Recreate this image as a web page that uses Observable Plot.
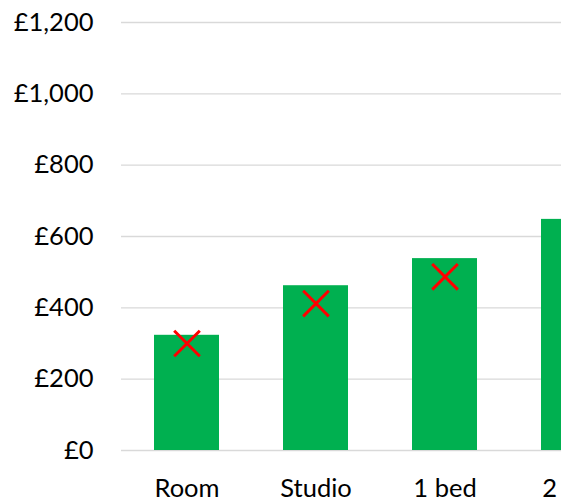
<!DOCTYPE html>
<html>
<head>
<meta charset="utf-8">
<script src="https://cdn.jsdelivr.net/npm/d3@7"></script>
<script src="https://cdn.jsdelivr.net/npm/@observablehq/plot@0.6"></script>
<style>
  html, body { margin: 0; padding: 0; background: #ffffff; }
  #chart svg { display: block; }
</style>
</head>
<body>
<div id="chart"></div>
<script>
const categories = ["Room", "Studio", "1 bed", "2 bed"];
const barValues = [323, 462, 538, 648];
const markerCategories = ["Room", "Studio", "1 bed"];
const markerValues = [300, 412, 487];
const yTicks = [0, 200, 400, 600, 800, 1000, 1200];

const bars = categories.map((c, i) => ({category: c, value: barValues[i]}));
const markers = markerCategories.map((c, i) => ({category: c, value: markerValues[i]}));

const W = 561, H = 502;
const mLeft = 121, mTop = 22, mBottom = 52;
const step = 129.4;

const chart = Plot.plot({
  width: W,
  height: H,
  marginLeft: mLeft,
  marginRight: 0,
  marginTop: mTop,
  marginBottom: mBottom,
  style: {fontFamily: "Lato, sans-serif", fontSize: "25.5px", color: "#000", background: "#fff"},
  x: {domain: categories, range: [mLeft, mLeft + step * categories.length], paddingInner: 0.5, paddingOuter: 0.25, label: null},
  y: {domain: [0, 1200], label: null},
  marks: [
    Plot.ruleY(yTicks, {stroke: "#d9d9d9", strokeWidth: 1.3}),
    Plot.barY(bars, {x: "category", y: "value", fill: "#00B050"}),
    Plot.dot(markers, {x: "category", y: "value", symbol: "times", r: 11.7, stroke: "#FF0000", strokeWidth: 3}),
    Plot.axisY({ticks: yTicks, tickFormat: d => "£" + d3.format(",")(d), tickSize: 0, tickPadding: 28, label: null}),
    Plot.axisX({tickSize: 0, tickPadding: 28, label: null})
  ]
});
document.getElementById("chart").appendChild(chart);
</script>
</body>
</html>
